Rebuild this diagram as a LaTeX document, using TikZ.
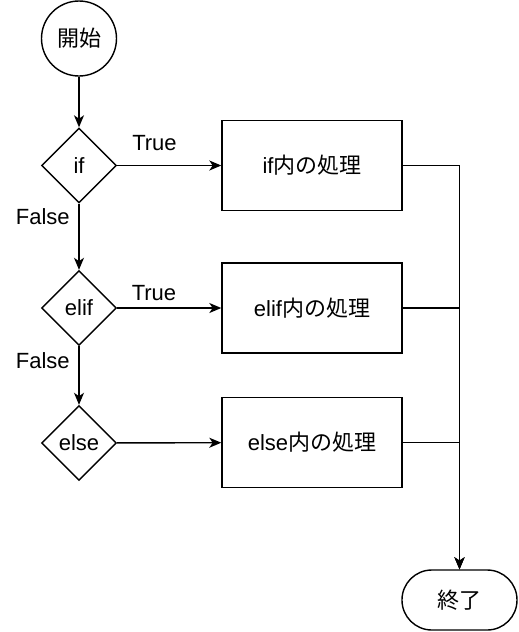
\documentclass[tikz,border=0pt]{standalone}
\usepackage{fontspec}
\setmainfont{Liberation Sans}
\newfontfamily\cjk{Noto Sans CJK JP}
\usetikzlibrary{shapes.geometric,arrows.meta}
\begin{document}
\begin{tikzpicture}[x=0.75pt,y=-0.75pt,
  font=\fontsize{16.5}{19}\selectfont,
  every node/.style={inner sep=0pt},
  shapebox/.style={draw, line width=1.05pt},
  decision/.style={shapebox, diamond, minimum width=56.25pt, minimum height=56.25pt},
  procbox/.style={shapebox, rectangle, minimum width=135pt, minimum height=67.5pt},
  termbox/.style={shapebox, rectangle, rounded corners=22.4pt, minimum width=86.25pt, minimum height=45pt},
  conn/.style={draw, line width=1.05pt, -{Stealth[length=9pt,width=7.5pt,inset=2.5pt]}},
  lbl/.style={font=\fontsize{16.5}{19}\selectfont}
]
\useasboundingbox (0,0) rectangle (518,632);
\fill[white] (0,0) rectangle (518,632);

\node[shapebox, circle, minimum size=56.25pt] (start) at (79,38.5) {\cjk 開始};
\node[decision] (dif) at (79,165.5) {if};
\node[decision] (delif) at (79,308) {elif};
\node[decision] (delse) at (79,443) {else};

\node[procbox] (bif) at (312,165.5) {if{\cjk 内の処理}};
\node[procbox] (belif) at (312,308) {elif{\cjk 内の処理}};
\node[procbox] (belse) at (312,442.5) {else{\cjk 内の処理}};

\node[termbox] (end) at (459.5,600) {\cjk 終了};

\draw[conn] (start) -- (dif);
\draw[conn] (dif) -- (delif);
\draw[conn] (delif) -- (delse);
\draw[conn] (dif) -- (bif);
\draw[conn] (delif) -- (belif);
\draw[conn] (delse) -- (belse);
\draw[conn] (bif.east) -| (end.north);
\draw[conn] (belif.east) -| (end.north);
\draw[conn] (belse.east) -| (end.north);

\node[lbl] (t1) at (154.5,143.5) {True};
\node[lbl, anchor=east] (f1) at (70,217) {False};
\node[lbl] (t2) at (154,293.5) {True};
\node[lbl, anchor=east] (f2) at (70,361) {False};
\end{tikzpicture}
\end{document}
